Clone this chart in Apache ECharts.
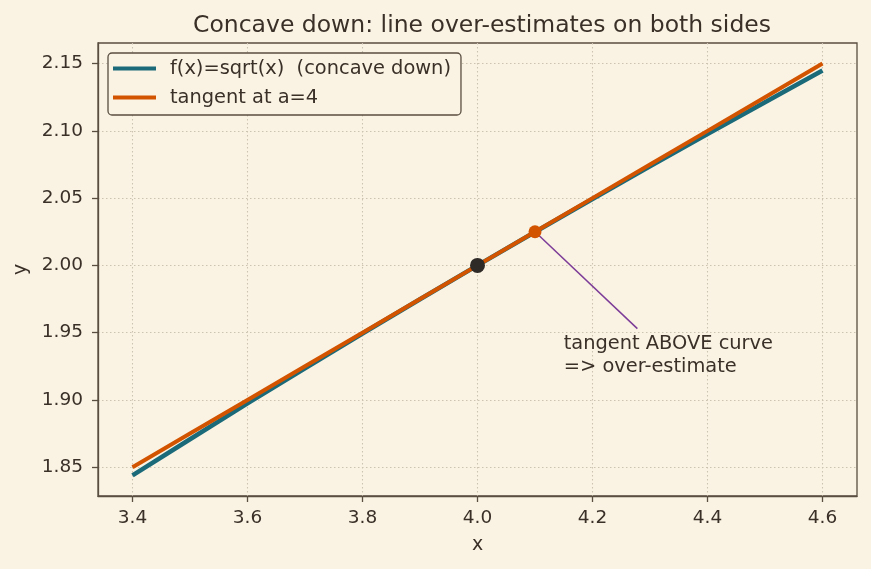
<!DOCTYPE html>
<html><head><meta charset="utf-8">
<script src="https://cdn.jsdelivr.net/npm/echarts@6/dist/echarts.min.js"></script>
<style>html,body{margin:0;padding:0;background:#faf3e3;}#c{width:871px;height:569px;}</style>
</head><body><div id="c"></div>
<script>
var xs = [3.4, 3.5, 3.6, 3.7, 3.8, 3.9, 4.0, 4.1, 4.2, 4.3, 4.4, 4.5, 4.6];
var fVals = [1.8439, 1.8708, 1.8974, 1.9235, 1.9494, 1.9748, 2.0, 2.0248, 2.0494, 2.0736, 2.0976, 2.1213, 2.1448];
var tanVals = [1.85, 1.875, 1.90, 1.925, 1.95, 1.975, 2.0, 2.025, 2.05, 2.075, 2.10, 2.125, 2.15];
var xTicks = [3.4, 3.6, 3.8, 4.0, 4.2, 4.4, 4.6];
var yTicks = [1.85, 1.90, 1.95, 2.00, 2.05, 2.10, 2.15];
var tangentPoint = [4.0, 2.0];
var samplePoint = [4.1, 2.025];
var annotText = ['tangent ABOVE curve', '=> over-estimate'];
var annotAnchor = [4.15, 1.92];
var arrowTail = [4.278, 1.953];
var xRange = [3.34, 4.66];
var yRange = [1.8286, 2.1653];

var FONT = 'DejaVu Sans';
var TXT = '#3a3028';
var AX = '#5a4e40';
var GRID = '#cdc3b1';
var TEAL = '#1b6a7a';
var ORANGE = '#d35400';

function pairs(a, b) { return a.map(function (v, i) { return [v, b[i]]; }); }

var chart = echarts.init(document.getElementById('c'), null, {renderer: 'canvas'});
chart.setOption({
  backgroundColor: '#faf3e3',
  animation: false,
  textStyle: {fontFamily: FONT},
  title: {
    text: 'Concave down: line over-estimates on both sides',
    left: 477, top: 9, textAlign: 'center',
    textStyle: {fontFamily: FONT, fontSize: 23.5, fontWeight: 'normal', color: TXT}
  },
  legend: {
    orient: 'vertical', left: 108, top: 53,
    padding: [6, 10, 8, 5],
    itemGap: 10, itemWidth: 43, itemHeight: 4, icon: 'rect',
    backgroundColor: '#faf3e3', borderColor: AX, borderWidth: 1.3, borderRadius: 4,
    textStyle: {fontFamily: FONT, fontSize: 19.4, color: TXT, padding: [0, 0, 0, 9]},
    data: ['f(x)=sqrt(x)  (concave down)', 'tangent at a=4']
  },
  grid: {left: 98, right: 14, top: 43, bottom: 73, containLabel: false,
         show: true, borderColor: AX, borderWidth: 1.3, backgroundColor: 'transparent'},
  xAxis: {
    type: 'value', min: xRange[0], max: xRange[1],
    name: 'x', nameLocation: 'middle', nameGap: 40,
    nameTextStyle: {fontFamily: FONT, fontSize: 19, color: TXT},
    axisLine: {show: true, onZero: false, lineStyle: {color: AX, width: 1.3}},
    axisTick: {show: true, length: 6, customValues: xTicks, lineStyle: {color: AX, width: 1.3}},
    axisLabel: {customValues: xTicks, fontFamily: FONT, fontSize: 18.5, color: TXT, margin: 13,
                formatter: function (v) { return v.toFixed(1); }},
    splitLine: {show: true, lineStyle: {color: GRID, type: [1.5, 2.5], width: 1.1}}
  },
  yAxis: {
    type: 'value', min: yRange[0], max: yRange[1],
    name: 'y', nameLocation: 'middle', nameGap: 64, nameRotate: 90,
    nameTextStyle: {fontFamily: FONT, fontSize: 19, color: TXT},
    axisLine: {show: true, onZero: false, lineStyle: {color: AX, width: 1.3}},
    axisTick: {show: true, length: 6, customValues: yTicks, lineStyle: {color: AX, width: 1.3}},
    axisLabel: {customValues: yTicks, fontFamily: FONT, fontSize: 18.5, color: TXT, margin: 15,
                formatter: function (v) { return v.toFixed(2); }},
    splitLine: {show: true, lineStyle: {color: GRID, type: [1.5, 2.5], width: 1.1}}
  },
  series: [
    {
      name: 'f(x)=sqrt(x)  (concave down)', type: 'line', data: pairs(xs, fVals),
      showSymbol: false, symbol: 'none',
      itemStyle: {color: TEAL}, lineStyle: {color: TEAL, width: 4.5}, z: 2
    },
    {
      name: 'tangent at a=4', type: 'line', data: pairs(xs, tanVals),
      showSymbol: false, symbol: 'none',
      itemStyle: {color: ORANGE}, lineStyle: {color: ORANGE, width: 4}, z: 3,
      markLine: {
        silent: true, symbol: ['none', 'arrow'], symbolSize: [0, 9],
        label: {show: false},
        lineStyle: {color: '#7d3c98', width: 1.5, type: 'solid', opacity: 1},
        data: [[{coord: arrowTail}, {coord: samplePoint}]]
      }
    },
    {
      type: 'scatter', data: [tangentPoint], symbolSize: 15,
      itemStyle: {color: '#2e2a27', opacity: 1}, z: 5
    },
    {
      type: 'scatter', data: [samplePoint], symbolSize: 13,
      itemStyle: {color: ORANGE, opacity: 1}, z: 5
    },
    {
      type: 'scatter', data: [annotAnchor], symbolSize: 0, z: 6,
      itemStyle: {opacity: 1, color: TXT},
      label: {
        show: true, position: [0, 0], align: 'left', verticalAlign: 'bottom',
        formatter: annotText.join('\n'),
        fontFamily: FONT, fontSize: 19.4, lineHeight: 23, color: TXT, opacity: 1, padding: [0, 0, -5, 0]
      }
    }
  ]
});
</script></body></html>
